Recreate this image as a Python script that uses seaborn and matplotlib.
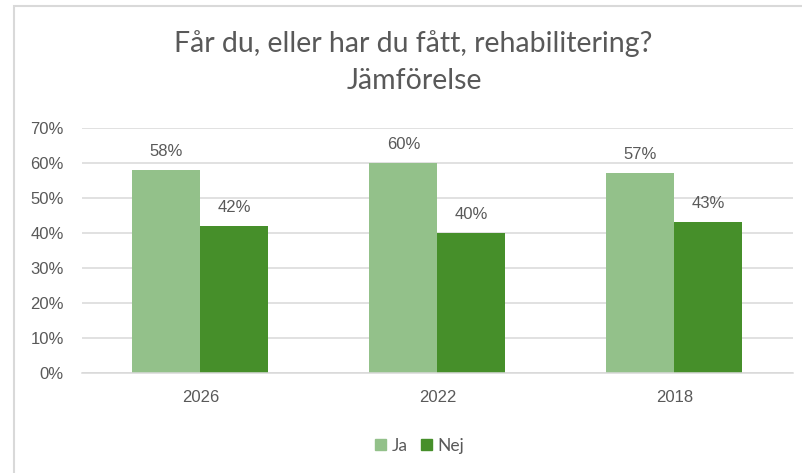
import pandas as pd
import matplotlib
matplotlib.use("Agg")
import matplotlib.pyplot as plt
import matplotlib.patches as mpatches
import seaborn as sns

# data
years = ["2026", "2022", "2018"]
ja = [0.58, 0.60, 0.57]
nej = [0.42, 0.40, 0.43]
answers = ["Ja", "Nej"]
colors = ["#93C18A", "#468F2A"]
yticks = [0, 0.1, 0.2, 0.3, 0.4, 0.5, 0.6, 0.7]

df = pd.DataFrame({
    "year": years * 2,
    "answer": ["Ja"] * 3 + ["Nej"] * 3,
    "value": ja + nej,
})

sns.set_style("white")
plt.rcParams["font.family"] = ["Liberation Sans", "DejaVu Sans"]
txt = "#595959"
grid = "#D9D9D9"

fig = plt.figure(figsize=(8.03, 4.73), dpi=100)
ax = fig.add_axes([0.102, 0.2114, 0.8855, 0.518])

sns.barplot(data=df, x="year", y="value", hue="answer", order=years,
            hue_order=answers, palette=colors, width=0.574, saturation=1,
            linewidth=0, ax=ax, legend=True)

ax.set_ylim(0, 0.7)
ax.set_xlim(-0.5, 2.5)
ax.set_yticks(yticks)
ax.set_yticklabels([f"{int(round(t * 100))}%" for t in yticks])
ax.yaxis.grid(True, color=grid, linewidth=1.1)
ax.set_axisbelow(True)
for s in ["top", "right", "left"]:
    ax.spines[s].set_visible(False)
ax.spines["bottom"].set_color(grid)
ax.spines["bottom"].set_linewidth(1.1)
ax.tick_params(axis="both", length=0, labelsize=12, labelcolor=txt)
ax.tick_params(axis="y", pad=13)
ax.tick_params(axis="x", pad=12)
ax.set_xlabel("")
ax.set_ylabel("")

for c in ax.containers:
    ax.bar_label(c, labels=[f"{int(round(v * 100))}%" for v in c.datavalues],
                 padding=8, fontsize=12, color=txt)

# legend at bottom
ax.legend_.remove()
handles = [mpatches.Patch(color=col, label=a) for a, col in zip(answers, colors)]
fig.legend(handles=handles, loc="center", bbox_to_anchor=(0.5225, 0.058), ncol=2,
           frameon=False, handlelength=0.64, handleheight=0.64, handletextpad=0.3,
           columnspacing=0.75, labelcolor=txt,
           prop={"family": ["Lato", "DejaVu Sans"], "size": 12.5})

# title
fig.text(0.515, 1 - 44 / 473, "Får du, eller har du fått, rehabilitering?",
         ha="center", va="center", fontsize=20.5, color=txt,
         family=["Lato", "DejaVu Sans"])
fig.text(0.516, 1 - 81 / 473, "Jämförelse",
         ha="center", va="center", fontsize=20.5, color=txt,
         family=["Lato", "DejaVu Sans"])

# chart frame (only top and left visible in the crop)
fig.patches.append(mpatches.Rectangle((13.5 / 803, -0.1), 1.0, 1.1 - 6.5 / 473,
                                      transform=fig.transFigure, fill=False,
                                      edgecolor=grid, linewidth=1.5))

fig.savefig("out.png", dpi=100)
